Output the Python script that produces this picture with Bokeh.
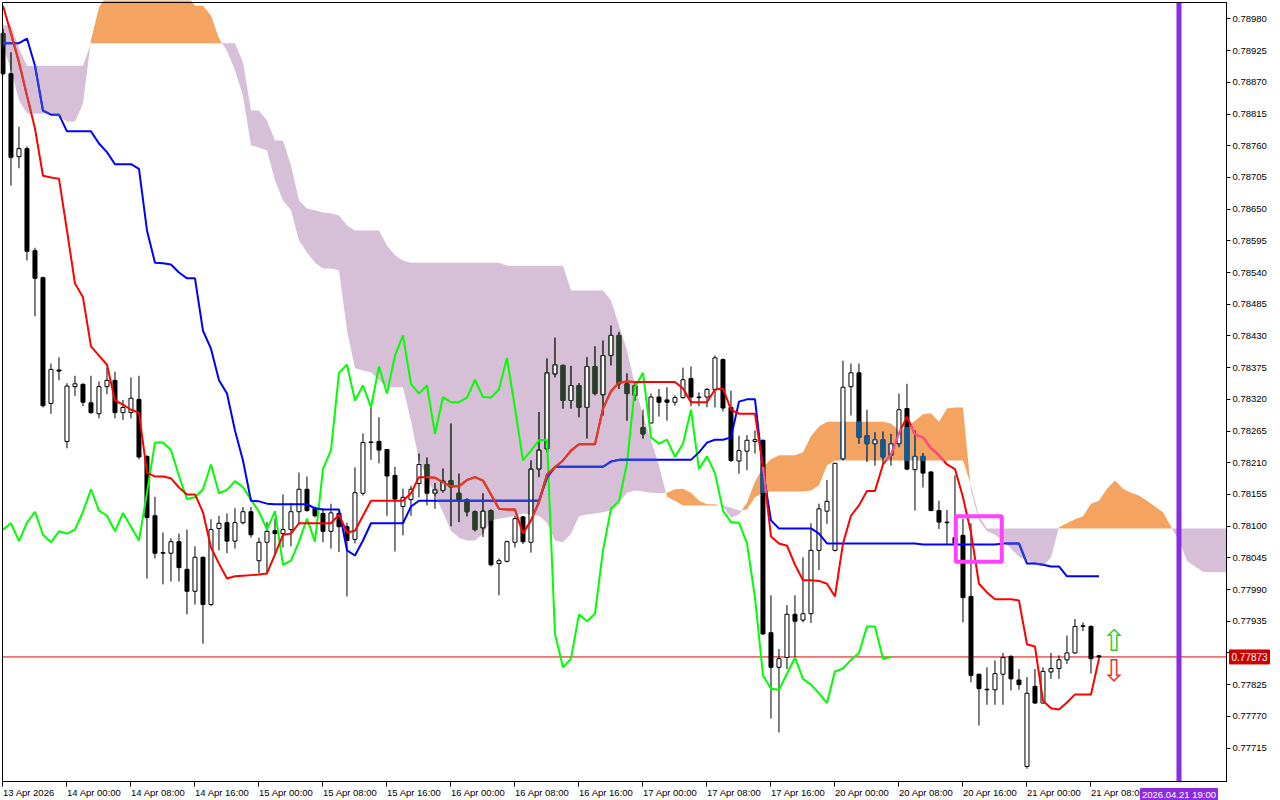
import numpy as np
from bokeh.plotting import figure
from bokeh.models import Range1d, FixedTicker, PrintfTickFormatter
from bokeh.embed import file_html
from bokeh.resources import INLINE
from bokeh.core.properties import value

# ---------------- data (H1 bars, index 0 = 13 Apr 16:00) ----------------
opens = [
0.78955, 0.78885, 0.78741, 0.78755, 0.78578, 0.78531, 0.78313, 0.78371, 0.78247, 0.78342,
0.78346, 0.78314, 0.78295, 0.78342, 0.78353, 0.78297, 0.78297, 0.78320, 0.78221, 0.78118,
0.78054, 0.78053, 0.78073, 0.78025, 0.77987, 0.78046, 0.77964, 0.78096, 0.78106, 0.78074,
0.78106, 0.78125, 0.78040, 0.78072, 0.78092, 0.78087, 0.78094, 0.78125, 0.78164, 0.78131,
0.78122, 0.78091, 0.78122, 0.78099, 0.78077, 0.78157, 0.78246, 0.78247, 0.78233, 0.78188,
0.78134, 0.78146, 0.78174, 0.78207, 0.78157, 0.78162, 0.78179, 0.78157, 0.78146, 0.78125,
0.78097, 0.78127, 0.78035, 0.78039, 0.78072, 0.78116, 0.78072, 0.78199, 0.78234, 0.78364,
0.78379, 0.78318, 0.78344, 0.78306, 0.78377, 0.78328, 0.78396, 0.78431, 0.78347, 0.78327,
0.78271, 0.78279, 0.78324, 0.78319, 0.78315, 0.78323, 0.78356, 0.78324, 0.78324, 0.78337,
0.78389, 0.78306, 0.78213, 0.78230, 0.78247, 0.78249, 0.77915, 0.77855, 0.77872, 0.77947,
0.77937, 0.77948, 0.78058, 0.78126, 0.78058, 0.78217, 0.78342, 0.78366, 0.78257, 0.78243,
0.78250, 0.78223, 0.78243, 0.78304, 0.78198, 0.78221, 0.78194, 0.78127, 0.78107, 0.78080,
0.78084, 0.77978, 0.77843, 0.77817, 0.77816, 0.77843, 0.77874, 0.77833, 0.77683, 0.77822,
0.77793, 0.77847, 0.77853, 0.77868, 0.77880, 0.77927, 0.77926, 0.77875]
highs = [
0.78963, 0.78922, 0.78793, 0.78759, 0.78583, 0.78533, 0.78382, 0.78393, 0.78348, 0.78361,
0.78348, 0.78361, 0.78351, 0.78375, 0.78368, 0.78319, 0.78358, 0.78361, 0.78223, 0.78151,
0.78089, 0.78079, 0.78087, 0.78094, 0.78065, 0.78047, 0.78112, 0.78118, 0.78122, 0.78131,
0.78133, 0.78133, 0.78080, 0.78107, 0.78113, 0.78155, 0.78140, 0.78193, 0.78186, 0.78134,
0.78131, 0.78139, 0.78127, 0.78106, 0.78202, 0.78261, 0.78306, 0.78289, 0.78233, 0.78203,
0.78165, 0.78170, 0.78226, 0.78219, 0.78175, 0.78200, 0.78278, 0.78191, 0.78148, 0.78127,
0.78157, 0.78129, 0.78044, 0.78075, 0.78118, 0.78118, 0.78214, 0.78298, 0.78391, 0.78427,
0.78380, 0.78378, 0.78348, 0.78393, 0.78412, 0.78422, 0.78448, 0.78437, 0.78365, 0.78350,
0.78302, 0.78330, 0.78338, 0.78341, 0.78327, 0.78375, 0.78377, 0.78332, 0.78340, 0.78396,
0.78391, 0.78335, 0.78257, 0.78258, 0.78266, 0.78250, 0.77980, 0.77887, 0.77963, 0.77980,
0.78046, 0.78105, 0.78139, 0.78180, 0.78210, 0.78387, 0.78382, 0.78382, 0.78302, 0.78263,
0.78264, 0.78260, 0.78330, 0.78347, 0.78266, 0.78227, 0.78195, 0.78144, 0.78128, 0.78188,
0.78113, 0.78105, 0.77844, 0.77855, 0.77867, 0.77880, 0.77876, 0.77852, 0.77838, 0.77852,
0.77855, 0.77880, 0.77876, 0.77910, 0.77939, 0.77933, 0.77928, 0.77876]
lows = [
0.78882, 0.78691, 0.78721, 0.78561, 0.78464, 0.78306, 0.78295, 0.78353, 0.78235, 0.78326,
0.78308, 0.78295, 0.78287, 0.78329, 0.78287, 0.78284, 0.78287, 0.78216, 0.78009, 0.78044,
0.77999, 0.78004, 0.78004, 0.77947, 0.77964, 0.77896, 0.77961, 0.78058, 0.78053, 0.78061,
0.78103, 0.78080, 0.78018, 0.78018, 0.78053, 0.78063, 0.78065, 0.78103, 0.78125, 0.78115,
0.78072, 0.78061, 0.78055, 0.77978, 0.78070, 0.78153, 0.78215, 0.78209, 0.78118, 0.78056,
0.78084, 0.78118, 0.78150, 0.78136, 0.78130, 0.78158, 0.78100, 0.78107, 0.78117, 0.78091,
0.78081, 0.78030, 0.77980, 0.78037, 0.78063, 0.78069, 0.78054, 0.78185, 0.78228, 0.78358,
0.78304, 0.78304, 0.78289, 0.78252, 0.78327, 0.78292, 0.78379, 0.78338, 0.78283, 0.78318,
0.78252, 0.78278, 0.78290, 0.78283, 0.78309, 0.78321, 0.78308, 0.78308, 0.78306, 0.78306,
0.78299, 0.78211, 0.78191, 0.78197, 0.78226, 0.77911, 0.77766, 0.77742, 0.77852, 0.77872,
0.77933, 0.77932, 0.78024, 0.78104, 0.78056, 0.78214, 0.78292, 0.78243, 0.78211, 0.78205,
0.78208, 0.78205, 0.78237, 0.78197, 0.78127, 0.78167, 0.78126, 0.78095, 0.78069, 0.78061,
0.77933, 0.77829, 0.77754, 0.77790, 0.77790, 0.77790, 0.77815, 0.77816, 0.77679, 0.77792,
0.77792, 0.77835, 0.77835, 0.77861, 0.77878, 0.77918, 0.77844, 0.77869]
closes = [
0.78885, 0.78740, 0.78755, 0.78577, 0.78530, 0.78309, 0.78372, 0.78369, 0.78343, 0.78347,
0.78315, 0.78297, 0.78342, 0.78353, 0.78297, 0.78306, 0.78322, 0.78220, 0.78115, 0.78053,
0.78053, 0.78073, 0.78028, 0.77987, 0.78046, 0.77964, 0.78094, 0.78105, 0.78074, 0.78106,
0.78125, 0.78085, 0.78072, 0.78091, 0.78087, 0.78094, 0.78125, 0.78164, 0.78127, 0.78118,
0.78091, 0.78123, 0.78099, 0.78075, 0.78158, 0.78245, 0.78245, 0.78232, 0.78187, 0.78147,
0.78150, 0.78164, 0.78207, 0.78157, 0.78163, 0.78178, 0.78168, 0.78146, 0.78125, 0.78094,
0.78126, 0.78033, 0.78040, 0.78073, 0.78113, 0.78073, 0.78199, 0.78232, 0.78366, 0.78380,
0.78318, 0.78344, 0.78306, 0.78377, 0.78330, 0.78396, 0.78431, 0.78347, 0.78330, 0.78344,
0.78260, 0.78324, 0.78315, 0.78315, 0.78323, 0.78354, 0.78324, 0.78323, 0.78337, 0.78392,
0.78305, 0.78214, 0.78231, 0.78249, 0.78250, 0.77913, 0.77855, 0.77870, 0.77947, 0.77935,
0.77948, 0.78058, 0.78130, 0.78143, 0.78209, 0.78341, 0.78366, 0.78254, 0.78243, 0.78250,
0.78220, 0.78243, 0.78302, 0.78199, 0.78221, 0.78192, 0.78127, 0.78107, 0.78106, 0.78070,
0.77976, 0.77841, 0.77818, 0.77816, 0.77844, 0.77872, 0.77835, 0.77825, 0.77810, 0.77793,
0.77848, 0.77853, 0.77868, 0.77880, 0.77926, 0.77926, 0.77870, 0.77873]

tenkan = [
0.79003, 0.78955, 0.78905, 0.78847, 0.78790, 0.78708, 0.78705, 0.78703, 0.78613, 0.78521,
0.78497, 0.78412, 0.78396, 0.78380, 0.78318, 0.78311, 0.78302, 0.78297, 0.78193, 0.78186,
0.78186, 0.78183, 0.78167, 0.78155, 0.78155, 0.78124, 0.78063, 0.78035, 0.78009, 0.78013,
0.78014, 0.78015, 0.78016, 0.78018, 0.78051, 0.78085, 0.78087, 0.78105, 0.78105, 0.78105,
0.78105, 0.78105, 0.78120, 0.78089, 0.78092, 0.78118, 0.78144, 0.78144, 0.78144, 0.78144,
0.78144, 0.78157, 0.78185, 0.78185, 0.78184, 0.78176, 0.78169, 0.78169, 0.78180, 0.78185,
0.78179, 0.78155, 0.78130, 0.78129, 0.78129, 0.78087, 0.78110, 0.78142, 0.78190, 0.78202,
0.78214, 0.78231, 0.78242, 0.78242, 0.78242, 0.78304, 0.78334, 0.78349, 0.78351, 0.78350,
0.78350, 0.78350, 0.78350, 0.78350, 0.78350, 0.78339, 0.78315, 0.78315, 0.78315, 0.78337,
0.78339, 0.78302, 0.78295, 0.78295, 0.78295, 0.78203, 0.78082, 0.78070, 0.78066, 0.78033,
0.78006, 0.78006, 0.78005, 0.78000, 0.77978, 0.78070, 0.78118, 0.78136, 0.78161, 0.78161,
0.78207, 0.78224, 0.78261, 0.78290, 0.78259, 0.78254, 0.78235, 0.78223, 0.78207, 0.78199,
0.78150, 0.78089, 0.78000, 0.77985, 0.77973, 0.77973, 0.77973, 0.77971, 0.77895, 0.77891,
0.77797, 0.77784, 0.77782, 0.77794, 0.77808, 0.77808, 0.77808, 0.77870]
kijun = [
0.78938, 0.78938, 0.78938, 0.78946, 0.78899, 0.78821, 0.78814, 0.78814, 0.78785, 0.78785,
0.78785, 0.78785, 0.78764, 0.78749, 0.78728, 0.78728, 0.78728, 0.78720, 0.78613, 0.78557,
0.78556, 0.78554, 0.78540, 0.78530, 0.78530, 0.78439, 0.78408, 0.78353, 0.78330, 0.78266,
0.78214, 0.78144, 0.78143, 0.78139, 0.78138, 0.78138, 0.78138, 0.78138, 0.78138, 0.78131,
0.78129, 0.78129, 0.78129, 0.78058, 0.78049, 0.78075, 0.78105, 0.78105, 0.78105, 0.78105,
0.78105, 0.78134, 0.78144, 0.78144, 0.78144, 0.78144, 0.78144, 0.78144, 0.78144, 0.78144,
0.78144, 0.78144, 0.78144, 0.78144, 0.78144, 0.78144, 0.78144, 0.78144, 0.78184, 0.78203,
0.78203, 0.78203, 0.78203, 0.78203, 0.78203, 0.78203, 0.78212, 0.78215, 0.78215, 0.78215,
0.78215, 0.78215, 0.78215, 0.78215, 0.78215, 0.78215, 0.78215, 0.78228, 0.78245, 0.78250,
0.78250, 0.78254, 0.78316, 0.78320, 0.78320, 0.78197, 0.78110, 0.78096, 0.78096, 0.78096,
0.78096, 0.78096, 0.78087, 0.78070, 0.78070, 0.78070, 0.78070, 0.78070, 0.78070, 0.78070,
0.78070, 0.78070, 0.78070, 0.78070, 0.78070, 0.78068, 0.78068, 0.78068, 0.78068, 0.78068,
0.78068, 0.78068, 0.78068, 0.78068, 0.78068, 0.78070, 0.78070, 0.78070, 0.78035, 0.78035,
0.78033, 0.78030, 0.78030, 0.78013, 0.78013, 0.78013, 0.78013, 0.78013]
# Senkou spans as displayed (already shifted forward), bars 0..153
span_a = [
0.78934, 0.78891, 0.78839, 0.78816, 0.78816, 0.78816, 0.78816, 0.78811, 0.78802, 0.78802,
0.78833, 0.78943, 0.79000, 0.79021, 0.79021, 0.79021, 0.79021, 0.79021, 0.79021, 0.79021,
0.79021, 0.79021, 0.79021, 0.79021, 0.79003, 0.79003, 0.78986, 0.78946, 0.78925, 0.78891,
0.78847, 0.78761, 0.78757, 0.78752, 0.78700, 0.78665, 0.78648, 0.78596, 0.78575, 0.78557,
0.78547, 0.78547, 0.78544, 0.78440, 0.78374, 0.78370, 0.78367, 0.78353, 0.78341, 0.78341,
0.78341, 0.78283, 0.78214, 0.78184, 0.78153, 0.78124, 0.78092, 0.78080, 0.78075, 0.78075,
0.78087, 0.78110, 0.78113, 0.78115, 0.78118, 0.78122, 0.78120, 0.78118, 0.78106, 0.78075,
0.78072, 0.78087, 0.78117, 0.78120, 0.78122, 0.78124, 0.78127, 0.78141, 0.78158, 0.78162,
0.78160, 0.78158, 0.78157, 0.78158, 0.78164, 0.78165, 0.78158, 0.78144, 0.78138, 0.78138,
0.78134, 0.78115, 0.78120, 0.78141, 0.78177, 0.78202, 0.78216, 0.78223, 0.78223, 0.78223,
0.78228, 0.78256, 0.78273, 0.78281, 0.78281, 0.78281, 0.78281, 0.78281, 0.78281, 0.78281,
0.78281, 0.78278, 0.78266, 0.78271, 0.78283, 0.78294, 0.78296, 0.78281, 0.78304, 0.78306,
0.78306, 0.78162, 0.78110, 0.78091, 0.78085, 0.78075, 0.78061, 0.78047, 0.78040, 0.78035,
0.78030, 0.78046, 0.78098, 0.78105, 0.78112, 0.78117, 0.78139, 0.78144, 0.78165, 0.78179,
0.78165, 0.78158, 0.78153, 0.78144, 0.78134, 0.78124, 0.78099, 0.78075, 0.78040, 0.78030,
0.78021, 0.78020, 0.78020, 0.78020]
span_b = [
0.78969, 0.78969, 0.78929, 0.78899, 0.78899, 0.78899, 0.78899, 0.78899, 0.78899, 0.78899,
0.78899, 0.78938, 0.78938, 0.78938, 0.78938, 0.78938, 0.78938, 0.78938, 0.78938, 0.78938,
0.78938, 0.78938, 0.78938, 0.78938, 0.78938, 0.78938, 0.78938, 0.78938, 0.78938, 0.78938,
0.78905, 0.78821, 0.78821, 0.78804, 0.78769, 0.78769, 0.78726, 0.78665, 0.78651, 0.78648,
0.78644, 0.78643, 0.78639, 0.78622, 0.78613, 0.78613, 0.78613, 0.78613, 0.78587, 0.78570,
0.78561, 0.78557, 0.78557, 0.78557, 0.78557, 0.78557, 0.78557, 0.78557, 0.78557, 0.78557,
0.78557, 0.78557, 0.78557, 0.78552, 0.78552, 0.78552, 0.78552, 0.78552, 0.78552, 0.78552,
0.78552, 0.78509, 0.78509, 0.78509, 0.78509, 0.78509, 0.78492, 0.78448, 0.78405, 0.78344,
0.78292, 0.78249, 0.78205, 0.78151, 0.78144, 0.78136, 0.78136, 0.78136, 0.78136, 0.78136,
0.78136, 0.78132, 0.78127, 0.78129, 0.78150, 0.78158, 0.78160, 0.78160, 0.78160, 0.78160,
0.78160, 0.78162, 0.78171, 0.78205, 0.78214, 0.78214, 0.78214, 0.78214, 0.78214, 0.78214,
0.78214, 0.78214, 0.78214, 0.78214, 0.78214, 0.78214, 0.78214, 0.78214, 0.78214, 0.78214,
0.78214, 0.78171, 0.78117, 0.78096, 0.78096, 0.78096, 0.78096, 0.78096, 0.78096, 0.78096,
0.78096, 0.78096, 0.78096, 0.78096, 0.78096, 0.78096, 0.78096, 0.78096, 0.78096, 0.78096,
0.78096, 0.78096, 0.78096, 0.78096, 0.78096, 0.78096, 0.78096, 0.78096, 0.78096, 0.78096,
0.78096, 0.78096, 0.78096, 0.78096]
chikou_shift = 26  # Chikou span = close plotted 26 bars back

price_ticks = [0.77715, 0.77770, 0.77825, 0.77880, 0.77935, 0.77990, 0.78045, 0.78100,
               0.78155, 0.78210, 0.78265, 0.78320, 0.78375, 0.78430, 0.78485, 0.78540,
               0.78595, 0.78650, 0.78705, 0.78760, 0.78815, 0.78870, 0.78925, 0.78980]
time_tick_bars = [0, 8, 16, 24, 32, 40, 48, 56, 64, 72, 80, 88, 96, 104, 112, 120, 128, 136]
time_tick_labels = ["13 Apr 2026", "14 Apr 00:00", "14 Apr 08:00", "14 Apr 16:00",
                    "15 Apr 00:00", "15 Apr 08:00", "15 Apr 16:00", "16 Apr 00:00",
                    "16 Apr 08:00", "16 Apr 16:00", "17 Apr 00:00", "17 Apr 08:00",
                    "17 Apr 16:00", "20 Apr 00:00", "20 Apr 08:00", "20 Apr 16:00",
                    "21 Apr 00:00", "21 Apr 08:00"]
last_price = 0.77873
marker_bar = 147
marker_text = "2026.04.21 19:00"
box_bars = (119.1, 124.85)
box_prices = (0.78038, 0.78117)
arrow_bar = 138.9
arrow_up_price = 0.77902
arrow_down_price = 0.77850

# ---------------- layout ----------------
CW, CH = 1280, 800                 # canvas
CL, CR, CT, CB = 2, 1226, 2, 781   # chart area inside canvas (px)
X0, X1 = -0.06, 152.94             # visible bars at chart edges
Y0, Y1 = 0.776569, 0.790086        # visible prices at chart edges
PPX = (CR - CL) / (X1 - X0)
PPY = (CB - CT) / (Y1 - Y0)
FX0, FX1 = X0 - CL / PPX, X1 + (CW - CR) / PPX
FY0, FY1 = Y0 - (CH - CB) / PPY, Y1 + CT / PPY

FONT = "Liberation Sans"
SANDY = (244, 164, 96)
THISTLE = (216, 191, 216)
RED = (255, 0, 0)
BLUE = (0, 0, 255)
LIME = (0, 255, 0)


def hexc(c):
    return "#%02x%02x%02x" % c


def notxor(pen, bg):
    return "#%02x%02x%02x" % tuple(255 - (p ^ q) for p, q in zip(pen, bg))


p = figure(width=CW, height=CH, output_backend="svg", toolbar_location=None, title=None,
           x_range=Range1d(FX0, FX1), y_range=Range1d(FY0, FY1),
           y_axis_location="right", min_border_left=0, min_border_top=0,
           min_border_right=0, min_border_bottom=0,
           background_fill_color="white", border_fill_color="white",
           outline_line_color=None)
p.grid.visible = False

yax = p.yaxis[0]
yax.fixed_location = X1
yax.bounds = (Y0, Y1)
yax.ticker = FixedTicker(ticks=price_ticks)
yax.formatter = PrintfTickFormatter(format="%.5f")
yax.major_label_text_font = FONT
yax.major_label_text_font_size = "9.5px"
yax.major_label_text_color = "black"
yax.major_tick_out = 4
yax.major_tick_in = 0
yax.minor_tick_out = 0
yax.minor_tick_in = 0
yax.major_label_standoff = 2
yax.axis_line_color = "black"

xax = p.xaxis[0]
xax.fixed_location = Y0
xax.bounds = (X0, X1)
xax.ticker = FixedTicker(ticks=time_tick_bars)
xax.major_label_overrides = {b: t for b, t in zip(time_tick_bars, time_tick_labels)}
xax.major_label_orientation = -0.0001
xax.major_label_text_font = FONT
xax.major_label_text_font_size = "9.5px"
xax.major_label_text_color = "black"
xax.major_label_standoff = 6
xax.major_tick_out = 5
xax.major_tick_in = 0
xax.minor_tick_out = 0
xax.minor_tick_in = 0
xax.axis_line_color = "black"

# ---------------- cloud ----------------
A = np.array(span_a)
B = np.array(span_b)
cx, ca, cb = [], [], []
for i in range(len(A)):
    cx.append(float(i)); ca.append(A[i]); cb.append(B[i])
    if i + 1 < len(A):
        d0 = A[i] - B[i]
        d1 = A[i + 1] - B[i + 1]
        if d0 * d1 < 0:
            t = d0 / (d0 - d1)
            yc = A[i] + t * (A[i + 1] - A[i])
            cx.append(i + t); ca.append(yc); cb.append(yc)
cx = np.array(cx); ca = np.array(ca); cb = np.array(cb)
ctop = np.maximum(ca, cb)
p.varea(x=cx, y1=cb, y2=ctop, fill_color=hexc(SANDY), fill_alpha=1.0)
p.varea(x=cx, y1=ca, y2=ctop, fill_color=hexc(THISTLE), fill_alpha=1.0)

# current price line
p.segment(x0=[X0], y0=[last_price], x1=[X1], y1=[last_price], line_color="#E00000", line_width=1)

# ---------------- candles ----------------
O = np.array(opens); H = np.array(highs); L = np.array(lows); C = np.array(closes)
n = len(O)
xs = np.arange(n)
bull = C >= O
W = 0.5

p.segment(x0=xs, y0=L, x1=xs, y1=H, line_color="black", line_width=1)


def cloud_bar(i):
    lo, hi = min(A[i], B[i]), max(A[i], B[i])
    bg = SANDY if A[i] > B[i] else THISTLE
    return lo, hi, bg


wx0, wy0, wy1, wcol = [], [], [], []
for i in range(n):
    lo, hi, bg = cloud_bar(i)
    a0, a1 = max(L[i], lo), min(H[i], hi)
    if a1 > a0:
        wx0.append(i); wy0.append(a0); wy1.append(a1); wcol.append(notxor((0, 0, 0), bg))
p.segment(x0=wx0, y0=wy0, x1=wx0, y1=wy1, line_color=wcol, line_width=1)

p.vbar(x=xs[bull], top=C[bull], bottom=O[bull], width=W,
       fill_color="white", line_color="black", line_width=1)
p.vbar(x=xs[~bull], top=O[~bull], bottom=C[~bull], width=W,
       fill_color="black", line_color="black", line_width=1)

bx, bt, bb, bc = [], [], [], []
ex0, ey0, ex1, ey1, ec = [], [], [], [], []
for i in range(n):
    lo, hi, bg = cloud_bar(i)
    inv = notxor((0, 0, 0), bg)
    if not bull[i]:
        a0, a1 = max(C[i], lo), min(O[i], hi)
        if a1 > a0:
            bx.append(i); bt.append(a1); bb.append(a0); bc.append(inv)
    else:
        a0, a1 = max(O[i], lo), min(C[i], hi)
        if a1 > a0:
            for dx in (-W / 2, W / 2):
                ex0.append(i + dx); ex1.append(i + dx); ey0.append(a0); ey1.append(a1); ec.append(inv)
        for yy in (O[i], C[i]):
            if lo <= yy <= hi:
                ex0.append(i - W / 2); ex1.append(i + W / 2); ey0.append(yy); ey1.append(yy); ec.append(inv)
p.vbar(x=bx, top=bt, bottom=bb, width=W, fill_color=bc, line_color=bc, line_width=1)
p.segment(x0=ex0, y0=ey0, x1=ex1, y1=ey1, line_color=ec, line_width=1)


# ---------------- ichimoku lines ----------------
def line_with_cloud(xv, yv, pen):
    xv = np.asarray(xv, dtype=float); yv = np.asarray(yv, dtype=float)
    p.line(xv, yv, line_color=hexc(pen), line_width=2)
    sx0, sy0, sx1, sy1, sc = [], [], [], [], []
    steps = 8
    for i in range(len(xv) - 1):
        for k in range(steps):
            t0, t1 = k / steps, (k + 1) / steps
            xa = xv[i] + t0 * (xv[i + 1] - xv[i]); xb = xv[i] + t1 * (xv[i + 1] - xv[i])
            ya = yv[i] + t0 * (yv[i + 1] - yv[i]); yb = yv[i] + t1 * (yv[i + 1] - yv[i])
            xm, ym = (xa + xb) / 2, (ya + yb) / 2
            a = np.interp(xm, cx, ca); b = np.interp(xm, cx, cb)
            if min(a, b) <= ym <= max(a, b):
                sx0.append(xa); sy0.append(ya); sx1.append(xb); sy1.append(yb)
                sc.append(notxor(pen, SANDY if a > b else THISTLE))
    if sx0:
        p.segment(x0=sx0, y0=sy0, x1=sx1, y1=sy1, line_color=sc, line_width=2)


chikou_x = xs[:n - chikou_shift]
chikou_y = C[chikou_shift:]
p.line(chikou_x, chikou_y, line_color=hexc(LIME), line_width=2)
line_with_cloud(xs, kijun, BLUE)
line_with_cloud(xs, tenkan, RED)

# ---------------- annotations ----------------
p.segment(x0=[marker_bar], y0=[Y0], x1=[marker_bar], y1=[Y1], line_color="#8A2BE2", line_width=5)

p.quad(left=[box_bars[0]], right=[box_bars[1]], bottom=[box_prices[0]], top=[box_prices[1]],
       fill_alpha=0, line_color="#FF40FF", line_width=4)

p.text(x=[arrow_bar], y=[arrow_up_price], text=["⇧"], text_color="#33CC33",
       text_font=value("DejaVu Sans"), text_font_size="30px", text_align="center",
       text_baseline="middle")
p.text(x=[arrow_bar], y=[arrow_down_price], text=["⇩"], text_color="#EE3333",
       text_font=value("DejaVu Sans"), text_font_size="30px", text_align="center",
       text_baseline="middle")

# chart border
p.quad(left=[X0], right=[X1], bottom=[Y0], top=[Y1], fill_alpha=0, line_color="black", line_width=1)

# price tag on the price scale
p.quad(left=[X1 + 3 / PPX], right=[X1 + 43 / PPX], bottom=[last_price - 7 / PPY],
       top=[last_price + 7 / PPY], fill_color="#CC0000", line_color="#CC0000", level="overlay")
p.text(x=[X1 + 5 / PPX], y=[last_price], text=["%.5f" % last_price], text_color="white",
       text_font=value(FONT), text_font_size="10px", text_align="left",
       text_baseline="middle", level="overlay")

# marker tag on the time scale
p.quad(left=[marker_bar - 38.5 / PPX], right=[marker_bar + 38.5 / PPX], bottom=[Y0 - 19 / PPY],
       top=[Y0 - 7 / PPY], fill_color="#8A2BE2", line_color="#8A2BE2", level="overlay")
p.text(x=[marker_bar], y=[Y0 - 13 / PPY], text=[marker_text], text_color="white",
       text_font=value(FONT), text_font_size="9.5px", text_align="center",
       text_baseline="middle", level="overlay")

open("out.html", "w").write(file_html(p, INLINE))
